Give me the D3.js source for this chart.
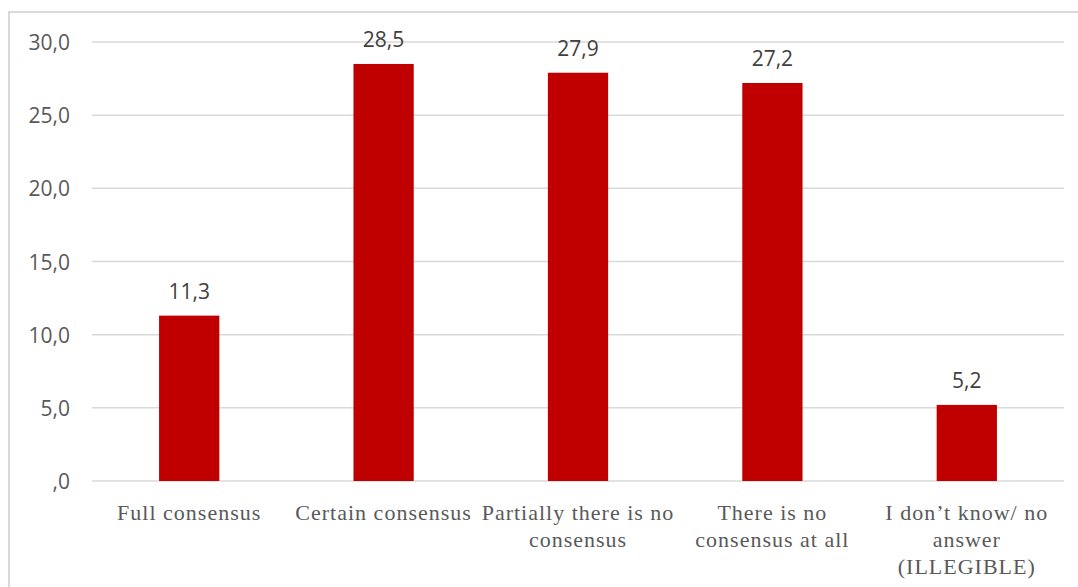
<!DOCTYPE html>
<html>
<head>
<meta charset="utf-8">
<script src="https://cdn.jsdelivr.net/npm/d3@7"></script>
<style>
  html, body { margin: 0; padding: 0; background: #fff; }
  svg { display: block; }
</style>
</head>
<body>
<svg id="chart" width="1078" height="587"></svg>
<script>
// Survey answers and their shares (%)
const categories = [
  "Full consensus",
  "Certain consensus",
  "Partially there is no consensus",
  "There is no consensus at all",
  "I don’t know/ no answer (ILLEGIBLE)"
];
const categoryLines = [
  ["Full consensus"],
  ["Certain consensus"],
  ["Partially there is no", "consensus"],
  ["There is no", "consensus at all"],
  ["I don’t know/ no", "answer", "(ILLEGIBLE)"]
];
const values = [11.3, 28.5, 27.9, 27.2, 5.2];
const valueLabels = ["11,3", "28,5", "27,9", "27,2", "5,2"];
const yTicks = [0, 5, 10, 15, 20, 25, 30];
const yTickLabels = [",0", "5,0", "10,0", "15,0", "20,0", "25,0", "30,0"];

const svg = d3.select("#chart");
const margin = { left: 92, right: 1064, top: 42, bottom: 481 };

const x = d3.scaleBand()
  .domain(categories)
  .range([margin.left, margin.right])
  .paddingInner(0.69)
  .paddingOuter(0.345);

const y = d3.scaleLinear()
  .domain([0, 30])
  .range([margin.bottom, margin.top]);

// Outer frame
svg.append("rect")
  .attr("x", 9).attr("y", 12)
  .attr("width", 1100).attr("height", 600)
  .attr("fill", "none")
  .attr("stroke", "#d9d9d9")
  .attr("stroke-width", 2);

// Horizontal gridlines
svg.append("g")
  .selectAll("line")
  .data(yTicks)
  .join("line")
  .attr("x1", margin.left).attr("x2", margin.right)
  .attr("y1", d => y(d)).attr("y2", d => y(d))
  .attr("stroke", "#d9d9d9")
  .attr("stroke-width", 1.5);

// Y axis labels
const yAxis = d3.axisLeft(y)
  .tickValues(yTicks)
  .tickFormat((d, i) => yTickLabels[i])
  .tickSize(0)
  .tickPadding(0);
const yg = svg.append("g")
  .attr("transform", `translate(70,0)`)
  .call(yAxis);
yg.select(".domain").remove();
yg.selectAll("text")
  .attr("fill", "#595959")
  .style("font-family", "'Open Sans', sans-serif")
  .style("font-size", "21px")
  .attr("dy", "0.36em");

// Bars
svg.append("g")
  .selectAll("rect")
  .data(values)
  .join("rect")
  .attr("x", (d, i) => x(categories[i]))
  .attr("y", d => y(d))
  .attr("width", x.bandwidth())
  .attr("height", d => y(0) - y(d))
  .attr("fill", "#c00000");

// Value labels
svg.append("g")
  .selectAll("text")
  .data(values)
  .join("text")
  .attr("x", (d, i) => x(categories[i]) + x.bandwidth() / 2)
  .attr("y", d => y(d) - 17)
  .attr("text-anchor", "middle")
  .attr("fill", "#404040")
  .style("font-family", "'Open Sans', sans-serif")
  .style("font-size", "21px")
  .text((d, i) => valueLabels[i]);

// Category labels (serif, wrapped)
const catG = svg.append("g");
categoryLines.forEach((lines, i) => {
  const cx = x(categories[i]) + x.bandwidth() / 2;
  const t = catG.append("text")
    .attr("text-anchor", "middle")
    .attr("fill", "#595959")
    .style("font-family", "'Liberation Serif', 'Times New Roman', serif")
    .style("font-size", "22px")
    .style("letter-spacing", "1px");
  lines.forEach((ln, j) => {
    t.append("tspan")
      .attr("x", cx)
      .attr("y", 520 + j * 27)
      .text(ln);
  });
});
</script>
</body>
</html>
